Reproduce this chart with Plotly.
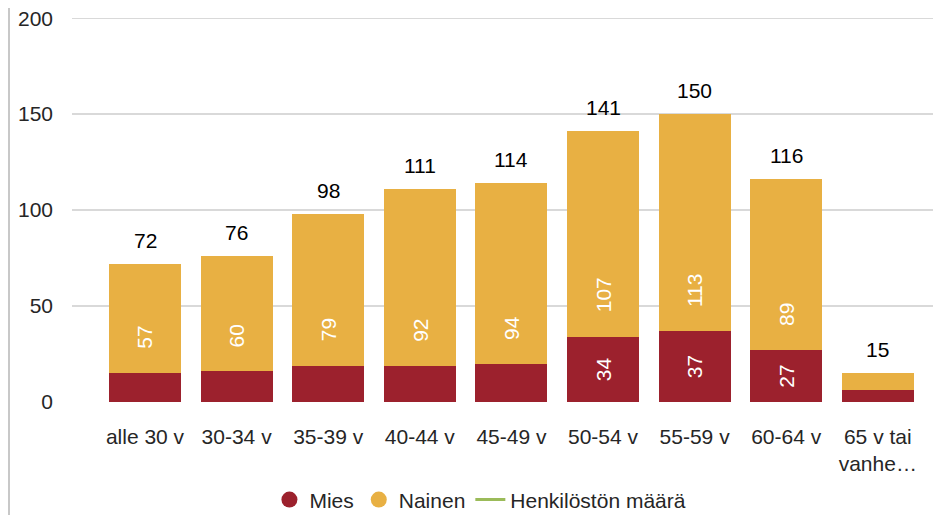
import plotly.graph_objects as go

categories = ["alle 30 v", "30-34 v", "35-39 v", "40-44 v", "45-49 v",
              "50-54 v", "55-59 v", "60-64 v", "65 v tai<br>vanhe…"]
mies = [15, 16, 19, 19, 20, 34, 37, 27, 6]
nainen = [57, 60, 79, 92, 94, 107, 113, 89, 9]
totals = [72, 76, 98, 111, 114, 141, 150, 116, 15]
mies_labels = ["", "", "", "", "", "34", "37", "27", ""]
nainen_labels = ["57", "60", "79", "92", "94", "107", "113", "89", ""]
y_ticks = [0, 50, 100, 150, 200]

C_MIES = "#9c212d"
C_NAINEN = "#e8b043"
C_LINE = "#9bbb59"
C_GRID = "#d9d9d9"
FONT = "Liberation Sans, Arial, sans-serif"
FS = 21

fig = go.Figure()
fig.add_bar(x=categories, y=mies, name="Mies", marker_color=C_MIES,
            marker_line_width=0, showlegend=False,
            text=mies_labels, textposition="inside", insidetextanchor="middle",
            textangle=-90, textfont=dict(color="white", size=FS, family=FONT),
            hoverinfo="skip")
fig.add_bar(x=categories, y=nainen, name="Nainen", marker_color=C_NAINEN,
            marker_line_width=0, showlegend=False, hoverinfo="skip")

# legend entries
fig.add_scatter(x=[None], y=[None], mode="markers", name="Mies",
                marker=dict(symbol="circle", size=18, color=C_MIES))
fig.add_scatter(x=[None], y=[None], mode="markers", name="Nainen",
                marker=dict(symbol="circle", size=18, color=C_NAINEN))
fig.add_scatter(x=[None], y=[None], mode="lines", name="Henkilöstön määrä",
                line=dict(color=C_LINE, width=3))

annotations = []
for c, t in zip(categories, totals):
    annotations.append(dict(x=c, y=t, text=str(t), showarrow=False,
                            yanchor="bottom", yshift=10,
                            font=dict(size=FS, color="#000000", family=FONT)))
for c, m, lab in zip(categories, mies, nainen_labels):
    if lab:
        annotations.append(dict(x=c, y=m, text=lab, showarrow=False,
                                textangle=-90, yanchor="bottom", yshift=22,
                                font=dict(size=FS, color="white", family=FONT)))

fig.update_layout(
    width=933, height=507,
    margin=dict(l=64, r=0, t=10, b=113, autoexpand=False),
    paper_bgcolor="white", plot_bgcolor="white",
    barmode="stack", bargap=0.214,
    font=dict(family=FONT, size=FS, color="#262626"),
    annotations=annotations,
    legend=dict(orientation="h", x=0.47, xanchor="center", y=-0.255,
                yanchor="middle", font=dict(size=21, color="#262626"),
                traceorder="normal", itemwidth=30, tracegroupgap=0),
    shapes=[
        dict(type="line", xref="paper", yref="paper",
             x0=-0.0725, x1=-0.0725, y0=-0.3, y1=1.03,
             line=dict(color="#c8c8c8", width=2)),
        dict(type="line", xref="paper", yref="y", layer="below",
             x0=0, x1=1, y0=y_ticks[-1], y1=y_ticks[-1],
             line=dict(color=C_GRID, width=1.5)),
    ],
)
fig.update_xaxes(range=[-0.797, 8.69], showgrid=False, showline=False,
                 zeroline=False, ticks="", ticklabelstandoff=20,
                 automargin=False,
                 tickfont=dict(size=FS, color="#262626"))
fig.update_yaxes(range=[0, 200.1], tickvals=y_ticks, showgrid=True,
                 gridcolor=C_GRID, gridwidth=1.5, zeroline=False,
                 showline=False, ticks="", ticklabelstandoff=18,
                 automargin=False, ticklabeloverflow="allow",
                 tickfont=dict(size=FS, color="#262626"))

fig.write_html("out.html")
